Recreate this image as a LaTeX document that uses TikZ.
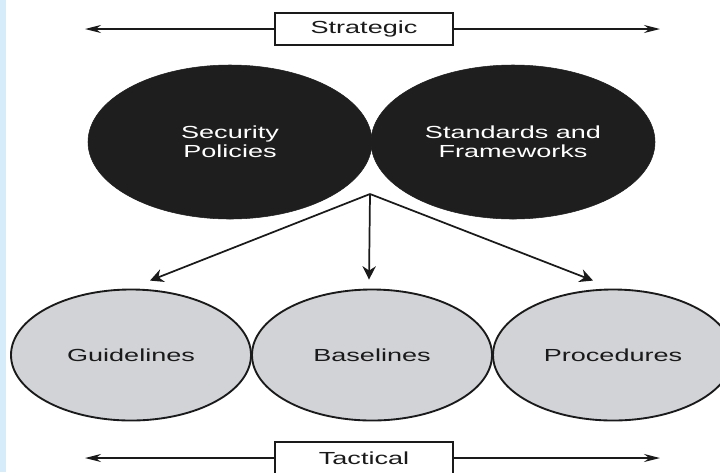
\documentclass[tikz,border=0pt]{standalone}
\usepackage{fontspec}
\setmainfont{Liberation Sans}[FakeStretch=1.55]
\usetikzlibrary{arrows.meta,positioning,shapes.geometric,calc}
\definecolor{dk}{HTML}{1E1E1E}
\definecolor{lg}{HTML}{D1D3D6}
\definecolor{ln}{HTML}{1A1A1A}
\definecolor{bg}{HTML}{D6ECFA}
\tikzset{
  topoval/.style={ellipse, fill=dk, draw=dk, text=white, inner sep=0pt,
    minimum width=213pt, minimum height=115.5pt, align=center,
    font=\fontsize{13.1}{14.25}\selectfont},
  lowoval/.style={ellipse, fill=lg, draw=ln, line width=1.4pt, text=ln, inner sep=0pt,
    minimum width=180pt, minimum height=98.25pt,
    font=\fontsize{13.1}{14.25}\selectfont},
  levelbox/.style={rectangle, draw=ln, line width=1.3pt, fill=white, text=ln,
    minimum width=133.5pt, minimum height=24pt, inner sep=0pt,
    font=\fontsize{13.1}{14.25}\selectfont},
  spread/.style={-{Stealth[length=10pt,width=10pt]}, line width=1.3pt, draw=ln},
  span/.style={-{Stealth[length=12pt,width=6pt]}, line width=1.2pt, draw=ln},
}
\begin{document}
\begin{tikzpicture}[x=0.75pt, y=-0.75pt]
  \useasboundingbox (0,0) rectangle (720,472);
  \clip (0,0) rectangle (720,472);
  \fill[bg] (0,0) rectangle (6,472);

  \node[levelbox] (strat) at (364,29) {Strategic};
  \coordinate (stratL) at (85,29);
  \coordinate (stratR) at (660,29);
  \draw[span] (strat.west) -- (stratL);
  \draw[span] (strat.east) -- (stratR);

  \node[topoval] (pol) at (230,142) {Security\\Policies};
  \node[topoval] (std) at (513,142) {Standards and\\Frameworks};

  \node[lowoval] (gui) at (131,355) {Guidelines};
  \node[lowoval] (bas) at (372,355) {Baselines};
  \node[lowoval] (pro) at (613,355) {Procedures};

  \coordinate (fork) at (370,194);
  \coordinate (guiT) at ($(gui.north)+(19,-8)$);
  \coordinate (basT) at ($(bas.north)+(-3,-9)$);
  \coordinate (proT) at ($(pro.north)+(-20,-8)$);
  \draw[spread] (fork) -- (guiT);
  \draw[spread] (fork) -- (basT);
  \draw[spread] (fork) -- (proT);

  \node[levelbox] (tact) at (364,458) {Tactical};
  \coordinate (tactL) at (85,458);
  \coordinate (tactR) at (660,458);
  \draw[span] (tact.west) -- (tactL);
  \draw[span] (tact.east) -- (tactR);
\end{tikzpicture}
\end{document}
